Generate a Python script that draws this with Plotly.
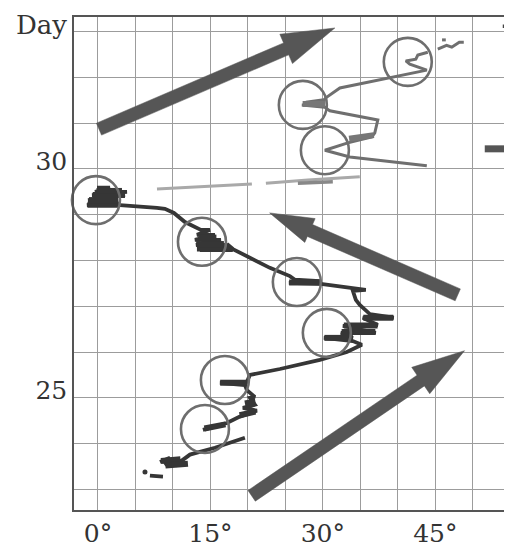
import math
import plotly.graph_objects as go

# ---------------- data (longitude in degrees, day) ----------------
x_tickvals = [0, 15, 30, 45]
x_ticktext = ["0°", "15°", "30°", "45°"]
y_tickvals = [25, 30]
y_ticktext = ["25", "30"]
x_range = [-3.2, 54.7]
y_range = [22.55, 33.32]

# main (dark) track, segments separated by None
main_lon = [6.93, 8.67, None,
            8.27, 9.6, 8.93, 10.93, 10.27, 12.27, 15.6, 19.6, None,
            14.0, 17.2, 18.93, 21.2, 19.33, 20.93, 20.27, 20.93, 19.87, 19.6, 16.27, 19.87,
            20.27, 24.27, 29.6, 33.2, 35.2, 34.0, 30.13, 34.0, 32.4, 37.07, 32.67, 37.33,
            35.33, 39.47, 36.27, 34.93, 34.4, 34.0, 35.73, 32.93, 29.73, 25.47, 29.6, 26.27,
            25.6, 22.93, 20.27, 18.0, 17.2,
            17.6, 13.6, 17.2, 13.07, 16.4, 12.93, 15.6, 13.2, 14.93, 13.73,
            11.6, 10.13, 8.93, 7.87, 3.47,
            2.93, -1.47, 2.67, -1.33, 3.6, -0.8, 3.87, -0.4, 1.6, -0.13]
main_day = [23.30, 23.28, None,
            23.60, 23.69, 23.54, 23.65, 23.52, 23.76, 23.91, 24.13, None,
            24.30, 24.45, 24.59, 24.72, 24.78, 24.85, 25.00, 25.02, 25.17, 25.28, 25.33, 25.35,
            25.50, 25.63, 25.83, 26.00, 26.16, 26.24, 26.31, 26.31, 26.42, 26.42, 26.57, 26.59,
            26.75, 26.75, 26.83, 27.03, 27.14, 27.34, 27.36, 27.42, 27.49, 27.51, 27.55, 27.58,
            27.66, 27.84, 28.06, 28.25, 28.36,
            28.23, 28.23, 28.34, 28.34, 28.45, 28.45, 28.56, 28.56, 28.67, 28.67,
            28.84, 29.04, 29.13, 29.15, 29.19,
            29.21, 29.21, 29.32, 29.32, 29.43, 29.43, 29.50, 29.50, 29.59, 29.59]
# thick scribbled clumps along the main track (short strokes)
clump_lon = [8.4, 11.0, None, 9.0, 12.0, None, 14.2, 17.0, None, 18.9, 21.0, None,
             19.6, 21.0, None, 16.3, 19.9, None, 30.2, 34.0, None, 32.5, 37.0, None,
             32.8, 37.3, None, 35.4, 39.4, None, 25.5, 29.7, None, 13.2, 17.4, None,
             13.1, 16.8, None, 13.4, 15.8, None, -1.4, 2.9, None, -1.2, 2.7, None,
             -0.7, 3.6, None, -0.2, 3.2]
clump_day = [23.62, 23.66, None, 23.52, 23.56, None, 24.33, 24.42, None, 24.62, 24.70, None,
             24.88, 24.92, None, 25.33, 25.33, None, 26.31, 26.31, None, 26.44, 26.44, None,
             26.58, 26.58, None, 26.75, 26.75, None, 27.52, 27.52, None, 28.26, 28.26, None,
             28.36, 28.36, None, 28.50, 28.50, None, 29.22, 29.22, None, 29.32, 29.32, None,
             29.43, 29.43, None, 29.52, 29.52]
dot_lon = [6.27]
dot_day = [23.38]

# upper (medium gray) track
upper_lon = [43.87, 33.6, 30.27, 33.33, 36.53, 36.93, 37.33, 30.93, 30.27,
             27.2, 30.27, 27.73, 30.13, 30.53, 32.27, 34.93, 38.53, 43.87,
             41.6, 41.07, 42.4, 42.67, 44.0, None,
             45.33, 46.5, 47.2, 48.2, 48.8, None,
             45.9, 46.4]
upper_day = [30.07, 30.26, 30.41, 30.57, 30.70, 30.79, 31.07, 31.27, 31.35,
             31.40, 31.42, 31.46, 31.51, 31.57, 31.77, 31.86, 31.97, 32.16,
             32.29, 32.36, 32.40, 32.49, 32.55, None,
             32.62, 32.70, 32.66, 32.77, 32.77, None,
             32.82, 32.82]
upper_clump_lon = [27.3, 30.3, None, 33.5, 36.8]
upper_clump_day = [31.42, 31.42, None, 30.66, 30.74]
right_lon = [51.6, 54.7]
right_day = [30.44, 30.44]
corner_lon = [52.53, None, 54.0, 54.5]
corner_day = [33.08, None, 33.12, 33.12]

# faint (light gray) track
faint_lon = [7.87, 14.0, 20.53, None, 22.4, 28.0, 34.93]
faint_day = [29.56, 29.62, 29.67, None, 29.69, 29.76, 29.83]
faint_dark_lon = [26.67, 31.33]
faint_dark_day = [29.69, 29.72]

# circles
circle_lon = [-0.27, 13.87, 26.53, 30.53, 16.93, 14.27, 27.33, 30.27, 41.33]
circle_day = [29.32, 28.41, 27.53, 26.42, 25.39, 24.32, 31.40, 30.41, 32.34]

# arrows: tail and tip
arrow_tail_lon = [0.13, 48.0, 20.5]
arrow_tail_day = [30.87, 27.25, 22.86]
arrow_tip_lon = [31.6, 22.9, 48.9]
arrow_tip_day = [33.08, 29.04, 26.03]
arrow_head_len = [53, 44, 53]
arrow_head_half = [16, 13, 16]

# ---------------- layout geometry ----------------
# the page body has an 8px default margin, so the figure is sized to fit inside it
W, H = 504, 541
ML, MR, MT, MB = 66, 4, 9, 39
PW, PH = W - ML - MR, H - MT - MB


def to_px(lon, day):
    return ((lon - x_range[0]) / (x_range[1] - x_range[0]) * PW,
            (day - y_range[0]) / (y_range[1] - y_range[0]) * PH)


def to_data(px, py):
    return (x_range[0] + px / PW * (x_range[1] - x_range[0]),
            y_range[0] + py / PH * (y_range[1] - y_range[0]))


fig = go.Figure()

fig.add_trace(go.Scatter(x=faint_lon, y=faint_day, mode="lines",
                         line=dict(color="#a9a9a9", width=3), cliponaxis=False))
fig.add_trace(go.Scatter(x=faint_dark_lon, y=faint_dark_day, mode="lines",
                         line=dict(color="#888888", width=3.5), cliponaxis=False))
fig.add_trace(go.Scatter(x=upper_lon, y=upper_day, mode="lines",
                         line=dict(color="#6f6f6f", width=3), cliponaxis=False))
fig.add_trace(go.Scatter(x=upper_clump_lon, y=upper_clump_day, mode="lines",
                         line=dict(color="#777777", width=6), cliponaxis=False))
fig.add_trace(go.Scatter(x=right_lon, y=right_day, mode="lines",
                         line=dict(color="#555555", width=7), cliponaxis=True))
fig.add_trace(go.Scatter(x=corner_lon, y=corner_day, mode="lines",
                         line=dict(color="#444444", width=3.5), cliponaxis=True))
fig.add_trace(go.Scatter(x=main_lon, y=main_day, mode="lines",
                         line=dict(color="#363636", width=3.8), cliponaxis=False))
fig.add_trace(go.Scatter(x=clump_lon, y=clump_day, mode="lines",
                         line=dict(color="#363636", width=6), cliponaxis=False))
fig.add_trace(go.Scatter(x=dot_lon, y=dot_day, mode="markers",
                         marker=dict(color="#363636", size=5), cliponaxis=False))
fig.add_trace(go.Scatter(x=circle_lon, y=circle_day, mode="markers",
                         marker=dict(symbol="circle-open", size=48, color="#6e6e6e",
                                     line=dict(width=2.6)),
                         cliponaxis=False))

shaft_half = 6.5
for tl, td, pl, pd, hl, hh in zip(arrow_tail_lon, arrow_tail_day, arrow_tip_lon,
                                  arrow_tip_day, arrow_head_len, arrow_head_half):
    tx, ty = to_px(tl, td)
    px, py = to_px(pl, pd)
    L = math.hypot(px - tx, py - ty)
    ux, uy = (px - tx) / L, (py - ty) / L
    nx, ny = -uy, ux
    bx, by = px - ux * hl, py - uy * hl
    pts = [(tx + nx * shaft_half, ty + ny * shaft_half),
           (bx + nx * shaft_half, by + ny * shaft_half),
           (bx + nx * hh, by + ny * hh),
           (px, py),
           (bx - nx * hh, by - ny * hh),
           (bx - nx * shaft_half, by - ny * shaft_half),
           (tx - nx * shaft_half, ty - ny * shaft_half)]
    dpts = [to_data(a, b) for a, b in pts]
    fig.add_trace(go.Scatter(x=[p[0] for p in dpts] + [dpts[0][0]],
                             y=[p[1] for p in dpts] + [dpts[0][1]],
                             mode="lines", fill="toself", fillcolor="#565656",
                             line=dict(color="#565656", width=0.5), cliponaxis=False))

font_serif = "DejaVu Serif"
fig.update_layout(
    width=W, height=H,
    margin=dict(l=ML, r=MR, t=MT, b=MB, autoexpand=False),
    paper_bgcolor="white", plot_bgcolor="white",
    showlegend=False,
    xaxis=dict(range=x_range, tickvals=x_tickvals, ticktext=x_ticktext,
               automargin=False,
               showgrid=True, gridcolor="#9c9c9c", gridwidth=1,
               minor=dict(dtick=5, tick0=0, showgrid=True, gridcolor="#9c9c9c", gridwidth=1),
               zeroline=False, showline=True, linecolor="#555555", linewidth=1.5,
               mirror=True, ticks="",
               tickfont=dict(family=font_serif, size=25, color="#333333")),
    yaxis=dict(range=y_range, tickvals=y_tickvals, ticktext=y_ticktext,
               automargin=False,
               showgrid=True, gridcolor="#9c9c9c", gridwidth=1,
               minor=dict(dtick=1, tick0=0, showgrid=True, gridcolor="#9c9c9c", gridwidth=1),
               zeroline=False, showline=True, linecolor="#555555", linewidth=1.5,
               mirror=True, ticks="", ticklabelshift=-8,
               tickfont=dict(family=font_serif, size=25, color="#333333")),
    annotations=[dict(text="Day", xref="paper", yref="paper", x=0, y=1,
                      xanchor="right", yanchor="top", xshift=-5, yshift=9,
                      showarrow=False,
                      font=dict(family=font_serif, size=26, color="#333333"))],
)

fig.write_html("out.html")
